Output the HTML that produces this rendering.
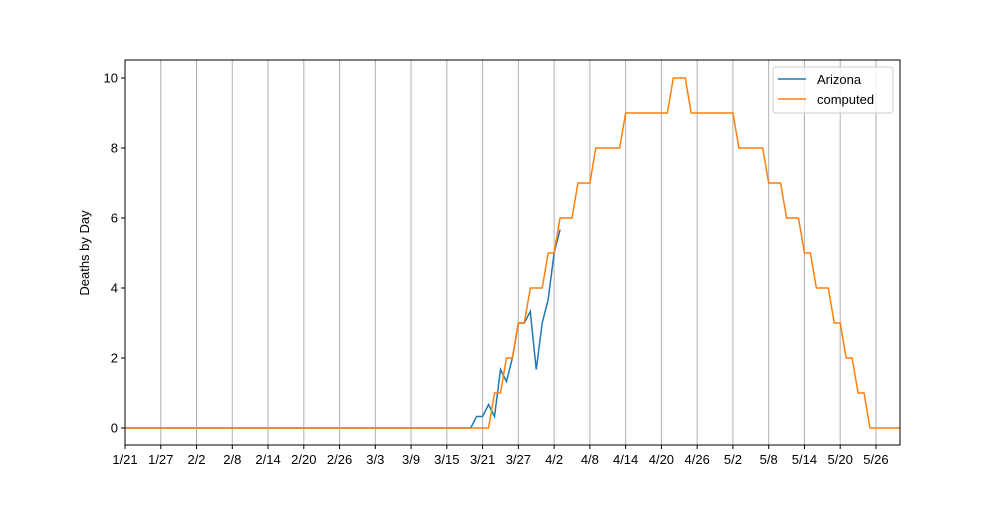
<!DOCTYPE html>
<html><head><meta charset="utf-8"><style>
body{margin:0;background:#fff;font-family:"Liberation Sans","DejaVu Sans",sans-serif;}
svg text{font-family:"Liberation Sans","DejaVu Sans",sans-serif;font-size:13px;fill:#000}
</style></head><body>
<svg id="chart" width="1000" height="500" viewBox="0 0 1000 500"></svg>
<script>
const tickLabels=["1/21","1/27","2/2","2/8","2/14","2/20","2/26","3/3","3/9","3/15","3/21","3/27","4/2","4/8","4/14","4/20","4/26","5/2","5/8","5/14","5/20","5/26"];
const yTicks=[0,2,4,6,8,10];
const arizonaStart=58;
const arizona=[0,0.33,0.33,0.67,0.33,1.67,1.33,2,3,3,3.33,1.67,3,3.67,5,5.67];
const computedKnots=[[0,0],[61,0],[62,1],[63,1],[64,2],[65,2],[66,3],[67,3],[68,4],[70,4],[71,5],[72,5],[73,6],[75,6],[76,7],[78,7],[79,8],[83,8],[84,9],[91,9],[92,10],[94,10],[95,9],[102,9],[103,8],[107,8],[108,7],[110,7],[111,6],[113,6],[114,5],[115,5],[116,4],[118,4],[119,3],[120,3],[121,2],[122,2],[123,1],[124,1],[125,0],[130,0]];

const L=125,R=900,T=60,B=445;
const xs=d=>L+d*5.96;
const ys=v=>428-v*35;
const svg=document.getElementById('chart');
const NS='http://www.w3.org/2000/svg';
function mk(t,a){const e=document.createElementNS(NS,t);for(const k in a)e.setAttribute(k,a[k]);svg.appendChild(e);return e;}

tickLabels.forEach((lab,i)=>{
  const x=xs(i*6);
  if(i>0){const g=mk('line',{x1:x,x2:x,y1:T,y2:B,stroke:'#b0b0b0','stroke-width':1});
  
  }
  const tk=mk('line',{x1:x,x2:x,y1:B,y2:B+4,stroke:'#000'});
  
  
  const t=mk('text',{x:x,y:B+19,'text-anchor':'middle'});t.textContent=lab;
  
  
});
yTicks.forEach(v=>{
  const y=ys(v);
  const tk=mk('line',{x1:L-4,x2:L,y1:y,y2:y,stroke:'#000'});
  
  
  const t=mk('text',{x:L-7,y:y+4.5,'text-anchor':'end'});t.textContent=v;
  
  
});
const yt=mk('text',{x:89,y:253,'text-anchor':'middle',transform:'rotate(-90 89 253)'});yt.textContent='Deaths by Day';



const az=mk('polyline',{points:arizona.map((v,i)=>xs(arizonaStart+i)+','+ys(v)).join(' ')+'',fill:'none',stroke:'#1f77b4','stroke-width':1.5});
const azFull=[[0,0]].concat(arizona.map((v,i)=>[arizonaStart+i,v]));
az.setAttribute('points',azFull.map(p=>xs(p[0])+','+ys(p[1])).join(' '));


const cp=mk('polyline',{points:computedKnots.map(p=>xs(p[0])+','+ys(p[1])).join(' '),fill:'none',stroke:'#ff7f0e','stroke-width':1.5});



const fr=mk('rect',{x:L,y:T,width:R-L,height:B-T,fill:'none',stroke:'#000','stroke-width':1});



const lg=mk('rect',{x:773,y:67,width:120,height:46,rx:3,fill:'#fff','fill-opacity':0.8,stroke:'#ccc'});


[['Arizona','#1f77b4',79],['computed','#ff7f0e',99]].forEach(([n,c,y])=>{
  const l=mk('line',{x1:778,x2:806,y1:y,y2:y,stroke:c,'stroke-width':1.5});
  
  
  const t=mk('text',{x:817,y:y+5});t.textContent=n;
  
  
});
</script>
</body></html>
